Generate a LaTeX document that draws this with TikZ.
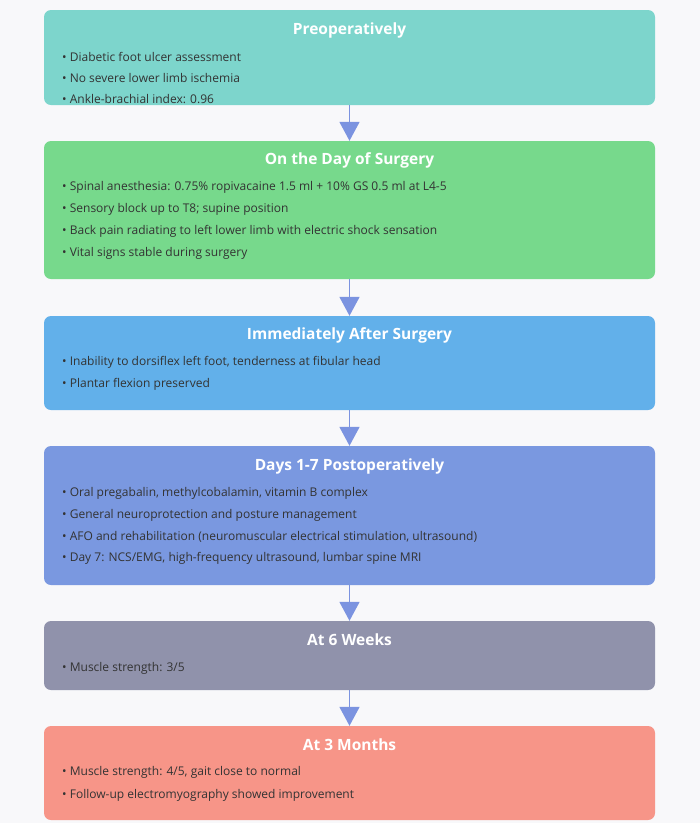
\documentclass[tikz,border=0pt]{standalone}
\usepackage{fontspec}
\setmainfont{Open Sans}
\usetikzlibrary{arrows.meta}
\definecolor{bg}{HTML}{F8F8FA}
\definecolor{c1}{HTML}{7DD5CC}
\definecolor{c2}{HTML}{77D98C}
\definecolor{c3}{HTML}{62B0EA}
\definecolor{c4}{HTML}{7A98E0}
\definecolor{c5}{HTML}{9092AB}
\definecolor{c6}{HTML}{F79588}
\definecolor{arr}{HTML}{7B93E0}
\definecolor{txt}{HTML}{333333}
\begin{document}
\begin{tikzpicture}[x=1pt,y=-1pt,
  box/.style={rounded corners=7pt,draw=none,minimum width=611pt,inner sep=0pt},
  ttl/.style={text=white,font=\fontsize{15.5}{18}\selectfont\bfseries,inner sep=0pt},
  bl/.style={text=txt,font=\fontsize{12}{14}\selectfont,anchor=west,inner sep=0pt},
  arrw/.style={draw=arr,line width=1.6pt,-{Triangle[width=20pt,length=19pt]}}]
\fill[bg] (0,0) rectangle (700,823);
\node[box,fill=c1,minimum height=95pt] (b1) at (349.5,57.5) {};
\node[box,fill=c2,minimum height=138pt] (b2) at (349.5,210) {};
\node[box,fill=c3,minimum height=94pt] (b3) at (349.5,363) {};
\node[box,fill=c4,minimum height=139pt] (b4) at (349.5,515.5) {};
\node[box,fill=c5,minimum height=69pt] (b5) at (349.5,655.5) {};
\node[box,fill=c6,minimum height=94pt] (b6) at (349.5,773) {};
\draw[arrw] (b1.south) -- (b2.north);
\draw[arrw] (b2.south) -- (b3.north);
\draw[arrw] (b3.south) -- (b4.north);
\draw[arrw] (b4.south) -- (b5.north);
\draw[arrw] (b5.south) -- (b6.north);
\node[ttl] (t1) at (349.5,30) {Preoperatively};
\node[bl] (p11) at (62,57) {• Diabetic foot ulcer assessment};
\node[bl] (p12) at (62,78) {• No severe lower limb ischemia};
\node[bl] (p13) at (62,99) {• Ankle-brachial index: 0.96};
\node[ttl] (t2) at (349.5,160) {On the Day of Surgery};
\node[bl] (p21) at (62,187) {• Spinal anesthesia: 0.75\% ropivacaine 1.5 ml + 10\% GS 0.5 ml at L4-5};
\node[bl] (p22) at (62,209) {• Sensory block up to T8; supine position};
\node[bl] (p23) at (62,231) {• Back pain radiating to left lower limb with electric shock sensation};
\node[bl] (p24) at (62,253) {• Vital signs stable during surgery};
\node[ttl] (t3) at (349.5,335) {Immediately After Surgery};
\node[bl] (p31) at (62,362) {• Inability to dorsiflex left foot, tenderness at fibular head};
\node[bl] (p32) at (62,384) {• Plantar flexion preserved};
\node[ttl] (t4) at (349.5,466) {Days 1-7 Postoperatively};
\node[bl] (p41) at (62,493) {• Oral pregabalin, methylcobalamin, vitamin B complex};
\node[bl] (p42) at (62,515) {• General neuroprotection and posture management};
\node[bl] (p43) at (62,537) {• AFO and rehabilitation (neuromuscular electrical stimulation, ultrasound)};
\node[bl] (p44) at (62,558) {• Day 7: NCS/EMG, high-frequency ultrasound, lumbar spine MRI};
\node[ttl] (t5) at (349.5,640) {At 6 Weeks};
\node[bl] (p51) at (62,668) {• Muscle strength: 3/5};
\node[ttl] (t6) at (349.5,745) {At 3 Months};
\node[bl] (p61) at (62,772) {• Muscle strength: 4/5, gait close to normal};
\node[bl] (p62) at (62,795) {• Follow-up electromyography showed improvement};
\end{tikzpicture}
\end{document}
